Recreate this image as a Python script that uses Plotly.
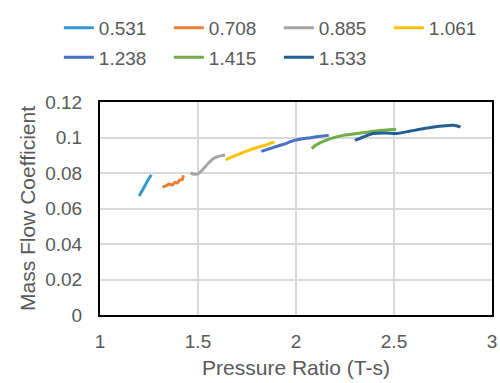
import plotly.graph_objects as go

names = ["0.531", "0.708", "0.885", "1.061", "1.238", "1.415", "1.533"]
colors = ["#3398D2", "#ED7D31", "#A5A5A5", "#FFC000", "#4472C4", "#70AD47", "#255E91"]

x_0531 = [1.200, 1.215, 1.230, 1.245, 1.262]
y_0531 = [0.0671, 0.0700, 0.0730, 0.0760, 0.0790]

x_0708 = [1.319, 1.339, 1.353, 1.369, 1.383, 1.395, 1.406, 1.420, 1.425]
y_0708 = [0.0721, 0.0729, 0.0738, 0.0732, 0.0748, 0.0743, 0.0760, 0.0763, 0.0787]

x_0885 = [1.462, 1.480, 1.504, 1.529, 1.554, 1.579, 1.605, 1.638]
y_0885 = [0.0800, 0.0793, 0.0797, 0.0825, 0.0856, 0.0881, 0.0894, 0.0900]

x_1061 = [1.641, 1.705, 1.772, 1.840, 1.890]
y_1061 = [0.0875, 0.0905, 0.0933, 0.0956, 0.0975]

x_1238 = [1.823, 1.890, 1.957, 1.991, 2.075, 2.125, 2.167]
y_1238 = [0.0922, 0.0946, 0.0970, 0.0984, 0.0999, 0.1007, 0.1012]

x_1415 = [2.080, 2.100, 2.125, 2.176, 2.242, 2.327, 2.411, 2.511]
y_1415 = [0.0937, 0.0956, 0.0971, 0.0994, 0.1012, 0.1025, 0.1037, 0.1046]

x_1533 = [2.301, 2.343, 2.394, 2.461, 2.511, 2.578, 2.662, 2.747, 2.805, 2.839]
y_1533 = [0.0984, 0.1003, 0.1022, 0.1025, 0.1022, 0.1035, 0.1052, 0.1065, 0.1069, 0.1059]

xs = [x_0531, x_0708, x_0885, x_1061, x_1238, x_1415, x_1533]
ys = [y_0531, y_0708, y_0885, y_1061, y_1238, y_1415, y_1533]

x_ticks = [1, 1.5, 2, 2.5, 3]
x_ticktext = ["1", "1.5", "2", "2.5", "3"]
y_ticks = [0, 0.02, 0.04, 0.06, 0.08, 0.1, 0.12]
y_ticktext = ["0", "0.02", "0.04", "0.06", "0.08", "0.1", "0.12"]

FONT = "Liberation Sans, Arial, sans-serif"
TXT = "#595959"

fig = go.Figure()
for i, (n, c, x, y) in enumerate(zip(names, colors, xs, ys)):
    fig.add_trace(go.Scatter(
        x=x, y=y, name=n, mode="lines",
        line=dict(color=c, width=3, shape="spline", smoothing=0.6),
        legend="legend" if i < 4 else "legend2",
    ))

legend_common = dict(
    orientation="h", xanchor="left", yanchor="middle",
    font=dict(family=FONT, size=19, color=TXT),
    bgcolor="rgba(0,0,0,0)", entrywidth=65, entrywidthmode="pixels",
    itemwidth=30, tracegroupgap=0, xref="paper", yref="paper",
)

fig.update_layout(
    width=500, height=383,
    margin=dict(l=100, r=3, t=102, b=68),
    paper_bgcolor="white", plot_bgcolor="white",
    font=dict(family=FONT, size=19, color=TXT),
    showlegend=True,
    legend=dict(x=-0.105, y=1.348, **legend_common),
    legend2=dict(x=-0.105, y=1.209, **legend_common),
    xaxis=dict(
        range=[1, 3], tickvals=x_ticks, ticktext=x_ticktext,
        showgrid=True, gridcolor="#D9D9D9", gridwidth=1.5,
        showline=True, linecolor="black", linewidth=2, mirror=True,
        zeroline=False, ticks="", ticklabelstandoff=8, ticklabeloverflow="allow",
        tickfont=dict(family=FONT, size=19, color=TXT),
        title=dict(text="Pressure Ratio (T-s)", font=dict(family=FONT, size=21, color=TXT), standoff=10),
    ),
    yaxis=dict(
        range=[0, 0.12], tickvals=y_ticks, ticktext=y_ticktext,
        showgrid=True, gridcolor="#D9D9D9", gridwidth=1.5,
        showline=True, linecolor="black", linewidth=2, mirror=True,
        zeroline=False, ticks="", ticklabelstandoff=12,
        tickfont=dict(family=FONT, size=19, color=TXT),
        title=dict(text="Mass Flow Coefficient", font=dict(family=FONT, size=21, color=TXT), standoff=4),
    ),
)

fig.write_html("out.html")
